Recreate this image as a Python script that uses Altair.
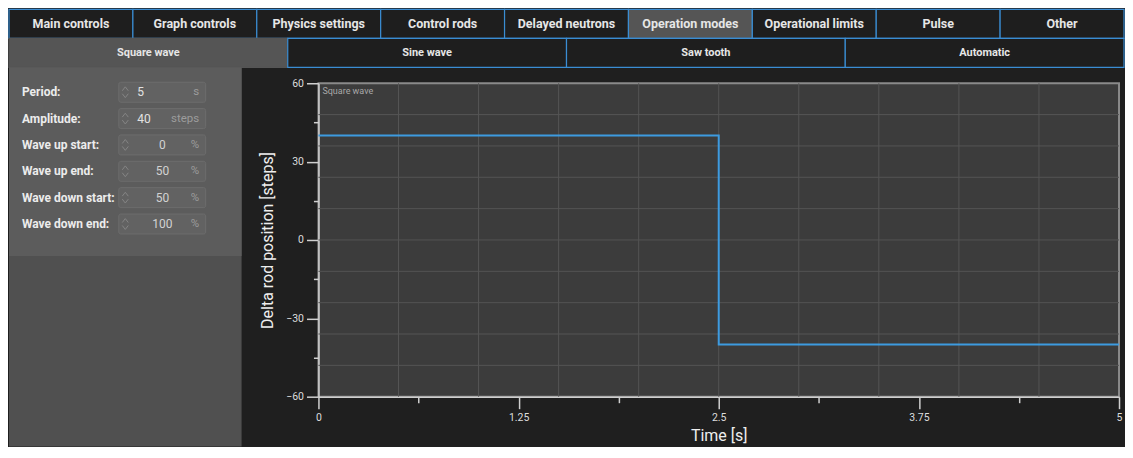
import altair as alt
import pandas as pd

# ---------------- data ----------------
main_tabs = ["Main controls", "Graph controls", "Physics settings", "Control rods",
             "Delayed neutrons", "Operation modes", "Operational limits", "Pulse", "Other"]
main_active = "Operation modes"
sub_tabs = ["Square wave", "Sine wave", "Saw tooth", "Automatic"]
sub_active = "Square wave"

param_labels = ["Period:", "Amplitude:", "Wave up start:", "Wave up end:",
                "Wave down start:", "Wave down end:"]
param_values = ["5", "40", "0", "50", "50", "100"]
param_units = ["s", "steps", "%", "%", "%", "%"]

wave_name = "Square wave"
time_s = [0, 2.5, 2.5, 5]
rod_pos = [40, 40, -40, -40]

x_domain = [0, 5]
y_domain = [-60, 60]
x_ticks = [0, 0.625, 1.25, 1.875, 2.5, 3.125, 3.75, 4.375, 5]
y_ticks = [-60, -45, -30, -15, 0, 15, 30, 45, 60]
x_grid = [0.5, 1, 1.5, 2, 2.5, 3, 3.5, 4, 4.5]
y_grid = [-48, -36, -24, -12, 0, 12, 24, 36, 48]

# ---------------- style ----------------
FONT = "Roboto"
BG = "#1f1f1f"
BLUE = "#3a8dd3"
TAB_FILL = "#1e1e1e"
TAB_ACTIVE = "#555555"
FULL_W = 1117
PANEL_W = 233
PANEL_H = 380
PLOT_W = 802
PLOT_H = 314
CHEVRONS = "M-0.5,-0.25L0,-0.9L0.5,-0.25M-0.5,0.25L0,0.9L0.5,0.25"


def tab_row(names, active, font_size, active_stroke):
    df = pd.DataFrame({"name": names, "active": [n == active for n in names]})
    x = alt.X("name:N", sort=names,
              scale=alt.Scale(domain=names, paddingInner=0, paddingOuter=0),
              axis=None)
    rect = alt.Chart(df).mark_rect(strokeWidth=1.2).encode(
        x=x,
        fill=alt.condition("datum.active", alt.value(TAB_ACTIVE), alt.value(TAB_FILL)),
        stroke=alt.condition("datum.active", alt.value(active_stroke), alt.value(BLUE)),
    )
    text = alt.Chart(df).mark_text(font=FONT, fontWeight="bold", fontSize=font_size,
                                   color="#e6e6e6").encode(x=x, text="name:N")
    return alt.layer(rect, text).properties(width=FULL_W, height=29)


row1 = tab_row(main_tabs, main_active, 12.5, BLUE)
row2 = tab_row(sub_tabs, sub_active, 11, TAB_ACTIVE)

# ---------------- left settings panel ----------------
pdf = pd.DataFrame({"label": param_labels, "value": param_values,
                    "unit": param_units, "i": list(range(len(param_labels)))})
ysc = alt.Scale(domain=param_labels, range=[11.8, 170.2], paddingInner=0, paddingOuter=0)
yrow = alt.Y("label:N", sort=param_labels, scale=ysc, axis=None)

panel_bg = alt.Chart(pd.DataFrame({"a": [0]})).mark_rect(color="#5c5c5c").encode(
    x=alt.value(0), x2=alt.value(PANEL_W), y=alt.value(0), y2=alt.value(189))
labels = alt.Chart(pdf).mark_text(font=FONT, fontWeight="bold", fontSize=12,
                                  color="#ececec", align="left").encode(
    y=yrow, x=alt.value(13), text="label:N")
boxes = alt.Chart(pdf).mark_rect(height=20, cornerRadius=2, fill="#626262",
                                 stroke="#6c6c6c", strokeWidth=1).encode(
    y=yrow, x=alt.value(110), x2=alt.value(197))
arrows = alt.Chart(pdf).mark_point(shape=CHEVRONS, size=144, filled=False,
                                   strokeWidth=1, color="#858585", opacity=1).encode(
    y=yrow, x=alt.value(116.5))
vals_left = alt.Chart(pdf).transform_filter("datum.i < 2").mark_text(
    font=FONT, fontSize=12, color="#e2e2e2", align="left").encode(
    y=yrow, x=alt.value(128.5), text="value:N")
vals_center = alt.Chart(pdf).transform_filter("datum.i >= 2").mark_text(
    font=FONT, fontSize=12, color="#d2d2d2", align="center").encode(
    y=yrow, x=alt.value(153.7), text="value:N")
units = alt.Chart(pdf).mark_text(font=FONT, fontSize=11.5, color="#9c9c9c",
                                 align="right").encode(
    y=yrow, x=alt.value(190.5), text="unit:N")

panel = alt.layer(panel_bg, boxes, labels, arrows, vals_left,
                  vals_center, units).properties(
    width=PANEL_W, height=PANEL_H, view=alt.ViewBackground(fill="#505050", stroke=None))

# ---------------- main plot ----------------
AX_COL = "#cfcfcf"
xaxis = alt.Axis(
    values=x_ticks, format=".3~g",
    labelExpr="datum.value % 1.25 === 0 ? datum.label : ''",
    tickSize={"condition": {"test": "datum.value % 1.25 === 0", "value": 12}, "value": 6},
    grid=False, title="Time [s]", titleFont=FONT, titleFontSize=16,
    titleFontWeight="normal", titleColor="#eeeeee", titlePadding=4,
    labelFont=FONT, labelFontSize=10.5, labelColor="#dddddd", labelPadding=4,
    labelOverlap=False, labelFlush=False,
    tickColor=AX_COL, tickWidth=1.5, domainColor=AX_COL, domainWidth=1.5)
yaxis = alt.Axis(
    values=y_ticks, format="d",
    labelExpr="datum.value % 30 === 0 ? datum.label : ''",
    tickSize={"condition": {"test": "datum.value % 30 === 0", "value": 12}, "value": 5},
    grid=False, title="Delta rod position [steps]", titleFont=FONT, titleFontSize=16,
    titleFontWeight="normal", titleColor="#eeeeee", titlePadding=10,
    labelFont=FONT, labelFontSize=10.5, labelColor="#dddddd", labelPadding=3,
    labelOverlap=False, labelFlush=False,
    tickColor=AX_COL, tickWidth=1.5, domainColor=AX_COL, domainWidth=1.5)

xenc = alt.X("t:Q", scale=alt.Scale(domain=x_domain, nice=False, zero=False), axis=xaxis)
yenc = alt.Y("v:Q", scale=alt.Scale(domain=y_domain, nice=False, zero=False), axis=yaxis)

line_df = pd.DataFrame({"t": time_s, "v": rod_pos, "i": list(range(len(time_s)))})
vgrid = alt.Chart(pd.DataFrame({"t": x_grid})).mark_rule(
    color="#545454", strokeWidth=1).encode(x=xenc)
hgrid = alt.Chart(pd.DataFrame({"v": y_grid})).mark_rule(
    color="#545454", strokeWidth=1).encode(y=yenc)
line = alt.Chart(line_df).mark_line(color="#3d9be0", strokeWidth=2).encode(
    x=xenc, y=yenc, order=alt.Order("i:Q"))
caption = alt.Chart(pd.DataFrame({"t": [x_domain[0]], "v": [y_domain[1]],
                                  "label": [wave_name]})).mark_text(
    font=FONT, fontSize=9, color="#a8a8a8", align="left", baseline="top",
    dx=4, dy=4).encode(x=xenc, y=yenc, text="label:N")

plot = alt.layer(vgrid, hgrid, line, caption).properties(
    width=PLOT_W, height=PLOT_H,
    view=alt.ViewBackground(fill="#3c3c3c", stroke="#8a8a8a", strokeWidth=2))

spacer = alt.Chart(pd.DataFrame({"a": [0]})).mark_point(opacity=0).properties(
    width=PLOT_W, height=1)

right = alt.vconcat(spacer, plot, spacing=15, bounds="flush")
lower = alt.hconcat(panel, right, spacing=77, bounds="flush")

chart = alt.vconcat(row1, row2, lower, spacing=0, bounds="flush").properties(
    padding=0, background=BG
).configure_view(stroke=None)

chart.save("out.html", embed_options={"renderer": "svg", "actions": False})
